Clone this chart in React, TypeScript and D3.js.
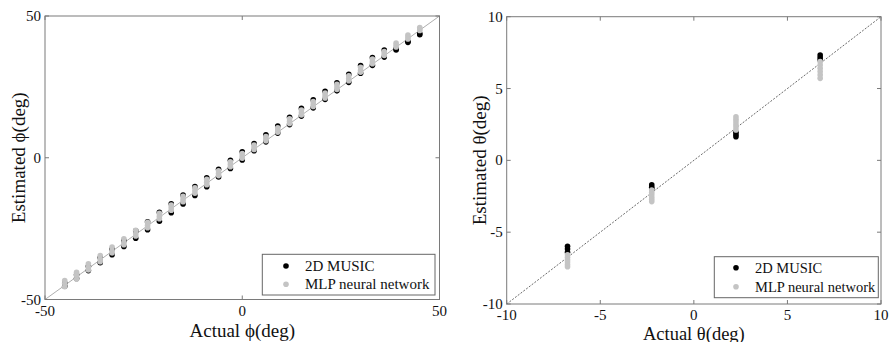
import React from "react";
import * as d3 from "d3";

// ---------- Left panel data (azimuth ϕ) ----------
const phiActual = [-45, -42, -39, -36, -33, -30, -27, -24, -21, -18, -15, -12, -9, -6, -3, 0, 3, 6, 9, 12, 15, 18, 21, 24, 27, 30, 33, 36, 39, 42, 45];
const musicPhiHi = [-44.2, -41.3, -38.3, -35.3, -32.3, -29.3, -25.8, -22.6, -19.2, -16.2, -13.2, -10.2, -7.1, -4.1, -0.9, 2.1, 5.0, 8.1, 11.2, 14.3, 17.4, 20.4, 23.4, 26.4, 29.4, 32.5, 35.3, 38.0, 38.4, 41.0, 43.8];
const musicPhiLo = [-45.3, -42.6, -39.8, -37.0, -34.2, -31.3, -28.4, -25.4, -22.4, -19.4, -16.3, -13.3, -10.2, -6.8, -3.8, -0.8, 2.5, 5.6, 8.7, 11.7, 14.7, 17.6, 20.6, 23.6, 26.6, 29.8, 32.6, 35.5, 38.0, 40.7, 43.4];
const mlpPhiA = [-43.3, -40.4, -37.4, -34.5, -31.5, -28.6, -25.6, -22.8, -19.6, -16.7, -13.6, -10.6, -7.6, -4.6, -1.4, 1.5, 4.5, 7.5, 10.6, 13.7, 16.8, 19.8, 22.8, 25.9, 28.9, 31.9, 34.8, 37.5, 40.5, 43.3, 45.9];
const mlpPhiB = [-44.4, -41.5, -38.6, -35.6, -32.7, -29.8, -26.8, -23.8, -20.6, -17.6, -14.6, -11.6, -8.6, -5.5, -2.3, 0.6, 3.7, 6.8, 9.8, 12.9, 15.9, 18.9, 21.9, 25.0, 28.0, 30.9, 33.9, 36.8, 39.8, 42.6, 45.4];
const mlpPhiC = [-45.5, -42.8, -39.6, -36.7, -33.6, -30.7, -27.6, -24.7, -21.5, -18.5, -15.5, -12.5, -9.5, -6.3, -3.2, -0.2, 2.9, 6.0, 9.0, 12.1, 15.1, 18.1, 21.1, 24.1, 27.2, 30.2, 33.2, 36.1, 39.1, 41.9, 44.9];
const phiTicks = [-50, 0, 50];

// ---------- Right panel data (elevation θ) ----------
const thetaActual = [-6.75, -2.25, 2.25, 6.75];
const musicThetaEst = [
  [-5.98, -6.17, -6.4],
  [-1.71, -1.87, -2.0],
  [1.96, 1.8, 1.65],
  [7.33, 7.15, 6.99],
];
const mlpThetaEst = [
  [-6.58, -6.75, -6.92, -7.08, -7.25, -7.4],
  [-2.06, -2.22, -2.38, -2.55, -2.7, -2.87],
  [3.04, 2.86, 2.68, 2.5, 2.32, 2.12],
  [6.87, 6.64, 6.41, 6.18, 5.95, 5.71],
];
const thetaTicks = [-10, -5, 0, 5, 10];

const seriesNames = ["2D MUSIC", "MLP neural network"];
const seriesColors = ["#000000", "#c4c4c4"];

const FONT = "'Liberation Serif', 'Times New Roman', serif";

type Pt = { x: number; y: number };

function Panel(props: {
  x0: number; x1: number; y0: number; y1: number;
  domain: [number, number];
  ticks: number[];
  music: Pt[];
  mlp: Pt[];
  xLabel: string; yLabel: string;
  yLabelX: number; xLabelY: number; xLabelFs: number;
  diagStyle: { stroke: string; dash?: string; width: number };
  legend: { x: number; y: number; w: number; h: number; dotX: number; textX: number; row1: number; row2: number; fs: number };
}) {
  const { x0, x1, y0, y1, domain, ticks, music, mlp, legend } = props;
  const xs = d3.scaleLinear().domain(domain).range([x0, x1]);
  const ys = d3.scaleLinear().domain(domain).range([y1, y0]);
  const r = 2.8;
  const tl = 4;
  const line = d3.line<number>().x((d) => xs(d)).y((d) => ys(d));
  return (
    <g>
      <path d={line([domain[0], domain[1]]) || ""} stroke={props.diagStyle.stroke} strokeWidth={props.diagStyle.width} strokeDasharray={props.diagStyle.dash} fill="none" />
      {music.map((p, i) => (
        <circle key={"m" + i} cx={xs(p.x)} cy={ys(p.y)} r={r} fill={seriesColors[0]} />
      ))}
      {mlp.map((p, i) => (
        <circle key={"n" + i} cx={xs(p.x)} cy={ys(p.y)} r={r} fill={seriesColors[1]} />
      ))}
      <rect x={x0} y={y0} width={x1 - x0} height={y1 - y0} fill="none" stroke="#7a7a7a" strokeWidth={1} />
      {ticks.map((t) => (
        <g key={"t" + t}>
          <line x1={xs(t)} x2={xs(t)} y1={y1} y2={y1 - tl} stroke="#7a7a7a" />
          <line x1={xs(t)} x2={xs(t)} y1={y0} y2={y0 + tl} stroke="#7a7a7a" />
          <line x1={x0} x2={x0 + tl} y1={ys(t)} y2={ys(t)} stroke="#7a7a7a" />
          <line x1={x1} x2={x1 - tl} y1={ys(t)} y2={ys(t)} stroke="#7a7a7a" />
          <text x={xs(t)} y={y1 + 16} textAnchor="middle" fontFamily={FONT} fontSize={15} fill="#111">{t}</text>
          <text x={x0 - 4} y={ys(t) + 5} textAnchor="end" fontFamily={FONT} fontSize={15} fill="#111">{t}</text>
        </g>
      ))}
      <text x={(x0 + x1) / 2} y={props.xLabelY} textAnchor="middle" fontFamily={FONT} fontSize={props.xLabelFs} fill="#111">{props.xLabel}</text>
      <text transform={`translate(${props.yLabelX},${(y0 + y1) / 2}) rotate(-90)`} textAnchor="middle" fontFamily={FONT} fontSize={19} fill="#111">{props.yLabel}</text>
      <rect x={legend.x} y={legend.y} width={legend.w} height={legend.h} fill="#fff" stroke="#666" strokeWidth={1} />
      {seriesNames.map((name, i) => (
        <g key={name}>
          <circle cx={legend.dotX} cy={i === 0 ? legend.row1 : legend.row2} r={r} fill={seriesColors[i]} />
          <text x={legend.textX} y={(i === 0 ? legend.row1 : legend.row2) + 5} fontFamily={FONT} fontSize={legend.fs} fill="#111">{name}</text>
        </g>
      ))}
    </g>
  );
}

export default function App() {
  const musicPhi: Pt[] = [];
  const mlpPhi: Pt[] = [];
  phiActual.forEach((a, i) => {
    musicPhi.push({ x: a, y: musicPhiHi[i] }, { x: a, y: musicPhiLo[i] });
    mlpPhi.push({ x: a, y: mlpPhiA[i] }, { x: a, y: mlpPhiB[i] }, { x: a, y: mlpPhiC[i] });
  });
  const musicTheta: Pt[] = [];
  const mlpTheta: Pt[] = [];
  thetaActual.forEach((a, i) => {
    musicThetaEst[i].forEach((v) => musicTheta.push({ x: a, y: v }));
    mlpThetaEst[i].forEach((v) => mlpTheta.push({ x: a, y: v }));
  });
  return (
    <svg width={889} height={342} style={{ position: "absolute", left: 0, top: 0, background: "#fff" }}>
      <rect width={889} height={342} fill="#fff" />
      <Panel
        x0={45} x1={439.5} y0={16} y1={299.5}
        domain={[-50, 50]} ticks={phiTicks}
        music={musicPhi} mlp={mlpPhi}
        xLabel="Actual ϕ(deg)" yLabel="Estimated ϕ(deg)"
        yLabelX={25} xLabelY={337} xLabelFs={19}
        diagStyle={{ stroke: "#999", width: 0.8 }}
        legend={{ x: 262.3, y: 254.3, w: 172.7, h: 40.7, dotX: 286, textX: 305, row1: 266, row2: 284.3, fs: 15 }}
      />
      <Panel
        x0={506.7} x1={881} y0={16.7} y1={304}
        domain={[-10, 10]} ticks={thetaTicks}
        music={musicTheta} mlp={mlpTheta}
        xLabel="Actual θ(deg)" yLabel="Estimated θ(deg)"
        yLabelX={486} xLabelY={339.5} xLabelFs={18.5}
        diagStyle={{ stroke: "#444", width: 0.8, dash: "2,1.5" }}
        legend={{ x: 714.3, y: 256.7, w: 164, h: 41, dotX: 736, textX: 755, row1: 267.7, row2: 286.7, fs: 14.5 }}
      />
    </svg>
  );
}
